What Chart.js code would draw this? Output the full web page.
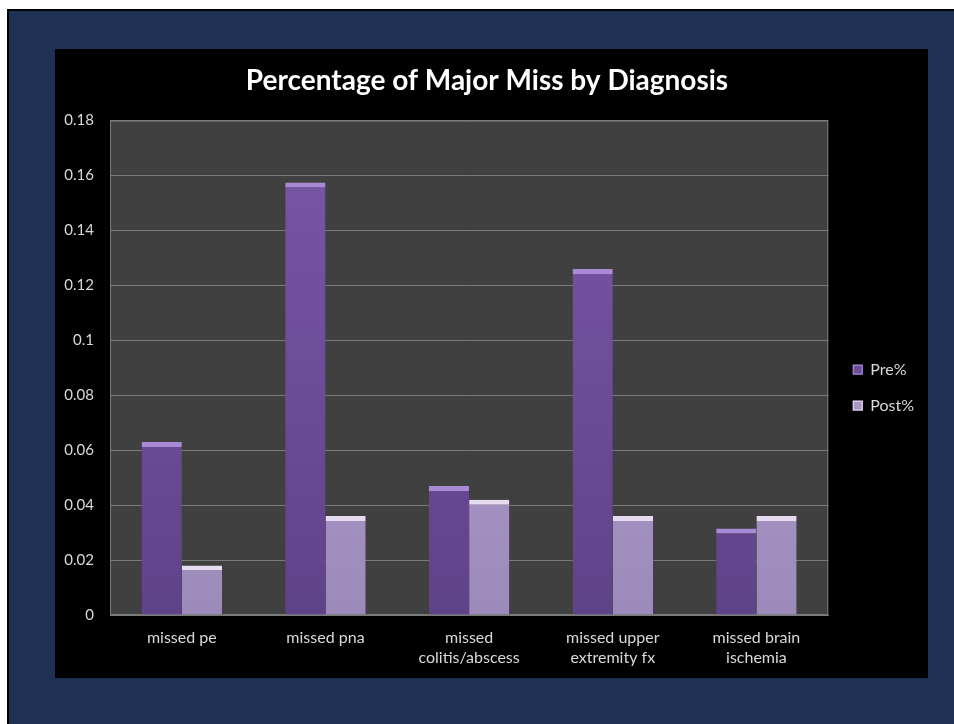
<!DOCTYPE html>
<html>
<head>
<meta charset="utf-8">
<script src="https://cdn.jsdelivr.net/npm/chart.js@4"></script>
<style>
  body { margin: 0; background: #fff; overflow: hidden; width: 954px; height: 724px; }
  #frame {
    position: absolute; left: 7px; top: 9px; width: 950px; height: 720px;
    background: #1f3152; border-left: 2px solid #000; border-top: 2px solid #000;
  }
  #box { position: absolute; left: 55px; top: 49px; width: 873px; height: 629px; background: #000; }
  canvas { display: block; }
</style>
</head>
<body>
<div id="frame"></div>
<div id="box"><canvas id="chart" width="873" height="629"></canvas></div>
<script>
const categories = [
  "missed pe",
  "missed pna",
  ["missed", "colitis/abscess"],
  ["missed upper", "extremity fx"],
  ["missed brain", "ischemia"]
]
const preValues = [0.063, 0.1575, 0.047, 0.126, 0.0315]
const postValues = [0.018, 0.036, 0.042, 0.036, 0.036]
const yTickLabels = ["0", "0.02", "0.04", "0.06", "0.08", "0.1", "0.12", "0.14", "0.16", "0.18"]

const FONT = "Lato, 'Open Sans', sans-serif"

function gradient(top, bottom, solid) {
  return ctx => {
    const area = ctx.chart.chartArea
    if (!area) return solid
    const g = ctx.chart.ctx.createLinearGradient(0, area.top, 0, area.bottom)
    g.addColorStop(0, top)
    g.addColorStop(1, bottom)
    return g
  }
}

// grey plot background
const plotBackground = {
  id: "plotBackground",
  beforeDraw(chart) {
    const { ctx, chartArea: a } = chart
    ctx.save()
    ctx.fillStyle = "#404040"
    ctx.fillRect(a.left, a.top, a.width, a.height)
    ctx.strokeStyle = "#7a7a7a"
    ctx.lineWidth = 1
    ctx.strokeRect(a.left + 0.5, a.top + 0.5, a.width - 1, a.height - 1)
    ctx.restore()
  }
}

// nudge the legend away from the plot, like the original
const legendShift = {
  id: "legendShift",
  afterLayout(chart) {
    const l = chart.legend
    l.left += 5; l.right += 5
    l.top += 24; l.bottom += 24
  }
}

new Chart(document.getElementById("chart"), {
  type: "bar",
  data: {
    labels: categories,
    datasets: [
      {
        label: "Pre%",
        data: preValues,
        backgroundColor: gradient("#7b56a8", "#5f4389", "#6f4e9c"),
        borderColor: "#a88ad6",
        borderWidth: { top: 5, left: 0, right: 0, bottom: 0 },
        borderSkipped: false
      },
      {
        label: "Post%",
        data: postValues,
        backgroundColor: gradient("#b9a5d4", "#9c8aba", "#ab98c8"),
        borderColor: "#e6dcf2",
        borderWidth: { top: 5, left: 0, right: 0, bottom: 0 },
        borderSkipped: false
      }
    ]
  },
  options: {
    responsive: false,
    animation: false,
    layout: { padding: { left: 0, right: 9, bottom: 0 } },
    datasets: {
      bar: { categoryPercentage: 0.56, barPercentage: 1.0 }
    },
    scales: {
      x: {
        grid: { display: false, drawTicks: false },
        border: { color: "#7a7a7a" },
        afterFit: s => { s.height = 63 },
        ticks: {
          color: "#d9d9d9",
          padding: 13,
          maxRotation: 0,
          autoSkip: false,
          font: { family: FONT, size: 16, lineHeight: 1.25 }
        }
      },
      y: {
        min: 0,
        max: 0.18,
        grid: { color: "#7a7a7a", drawTicks: false },
        border: { color: "#7a7a7a" },
        afterFit: s => { s.width = 55 },
        ticks: {
          stepSize: 0.02,
          color: "#d9d9d9",
          padding: 16,
          font: { family: FONT, size: 15 },
          callback: (v, i) => yTickLabels[i]
        }
      }
    },
    plugins: {
      title: {
        display: true,
        text: "Percentage of Major Miss by Diagnosis",
        color: "#ffffff",
        font: { family: FONT, size: 28, weight: "bold" },
        padding: { top: 15, bottom: 23 }
      },
      legend: {
        position: "right",
        labels: {
          color: "#d9d9d9",
          boxWidth: 9,
          boxHeight: 9,
          padding: 20,
          font: { family: FONT, size: 16 }
        }
      },
      tooltip: { enabled: false }
    }
  },
  plugins: [plotBackground, legendShift]
})
</script>
</body>
</html>
